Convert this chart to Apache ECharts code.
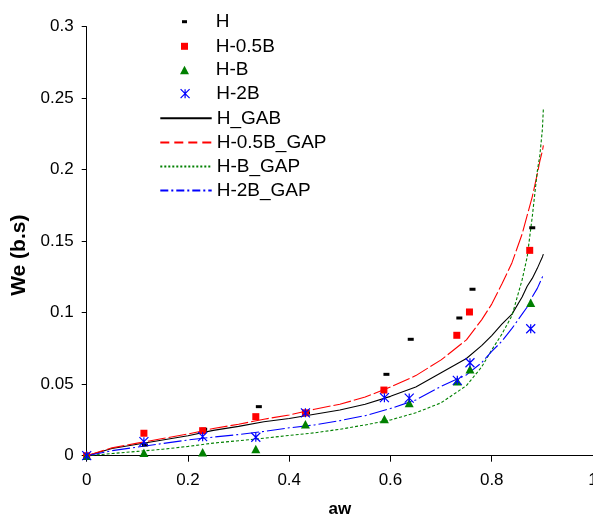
<!DOCTYPE html>
<html>
<head>
<meta charset="utf-8">
<script src="https://cdn.jsdelivr.net/npm/echarts@6/dist/echarts.min.js"></script>
<style>
  html, body { margin: 0; padding: 0; background: #fff; }
  #chart { width: 593px; height: 518px; }
</style>
</head>
<body>
<div id="chart"></div>
<script>
// Measured equilibrium moisture (We) against water activity (aw)
const awH     = [0, 0.115, 0.232, 0.340, 0.435, 0.592, 0.640, 0.736, 0.762, 0.880];
const weH     = [0, 0.0075, 0.0185, 0.0343, 0.030, 0.0569, 0.0814, 0.0963, 0.1164, 0.1594];
const awHalfB = [0, 0.113, 0.229, 0.334, 0.432, 0.587, 0.731, 0.756, 0.875];
const weHalfB = [0, 0.0157, 0.0175, 0.0273, 0.030, 0.0459, 0.0842, 0.1005, 0.1436];
const awB     = [0, 0.113, 0.229, 0.334, 0.432, 0.588, 0.637, 0.732, 0.757, 0.877];
const weB     = [0, 0.002, 0.0024, 0.0047, 0.022, 0.0257, 0.0368, 0.052, 0.0604, 0.107];
const aw2B    = [0, 0.113, 0.229, 0.334, 0.432, 0.588, 0.637, 0.732, 0.757, 0.877];
const we2B    = [0, 0.0098, 0.0133, 0.0129, 0.030, 0.0406, 0.0403, 0.0527, 0.065, 0.0888];

// Fitted sorption curves
const awFit    = [0, 0.05, 0.1, 0.15, 0.2, 0.25, 0.3, 0.35, 0.4, 0.45, 0.5, 0.55, 0.6, 0.65, 0.7, 0.75, 0.78, 0.8, 0.82, 0.84, 0.86, 0.87, 0.88, 0.89, 0.895, 0.9, 0.902];
const fitH     = [0, 0.005, 0.008, 0.011, 0.014, 0.0177, 0.0205, 0.0237, 0.026, 0.029, 0.032, 0.036, 0.0415, 0.048, 0.058, 0.068, 0.077, 0.084, 0.092, 0.099, 0.111, 0.1185, 0.124, 0.131, 0.135, 0.139, 0.141];
const fitHalfB = [0, 0.0055, 0.0088, 0.012, 0.0152, 0.019, 0.022, 0.0255, 0.0285, 0.0325, 0.036, 0.041, 0.048, 0.056, 0.067, 0.081, 0.095, 0.106, 0.120, 0.135, 0.155, 0.168, 0.181, 0.197, 0.206, 0.213, 0.217];
const fitB     = [0, 0.0015, 0.003, 0.0045, 0.0065, 0.0088, 0.0105, 0.0122, 0.0142, 0.016, 0.0185, 0.0215, 0.025, 0.030, 0.037, 0.049, 0.062, 0.074, 0.085, 0.098, 0.123, 0.139, 0.167, 0.199, 0.210, 0.228, 0.243];
const fit2B    = [0, 0.0035, 0.006, 0.0085, 0.011, 0.013, 0.0148, 0.017, 0.0195, 0.0215, 0.0245, 0.028, 0.033, 0.039, 0.0485, 0.0565, 0.065, 0.073, 0.080, 0.089, 0.099, 0.104, 0.111, 0.117, 0.121, 0.125, 0.127];

const xTicks = { min: 0, max: 1, interval: 0.2 };
const yTicks = { min: 0, max: 0.3, interval: 0.05 };

const pairs = (xs, ys) => xs.map((x, i) => [x, ys[i]]);

const FONT = '"Liberation Sans", Arial, sans-serif';
const STAR = 'path://M0,0L10,10M10,0L0,10M5,0L5,10';

// legend column: markers centred at ICON_CX, labels starting at TEXT_X
const ICON_CX = 184.5;
const TEXT_X = 215.7;

const chart = echarts.init(document.getElementById('chart'), null, { renderer: 'canvas' });

function markerLegend(name, icon, w, h, centerY, extra) {
  const left = ICON_CX - w / 2;
  return Object.assign({
    show: true,
    orient: 'vertical',
    left: left,
    top: centerY - 10,
    padding: 0,
    itemWidth: w,
    itemHeight: h,
    symbolKeepAspect: false,
    selectedMode: false,
    textStyle: {
      fontFamily: FONT, fontSize: 19, color: '#000', lineHeight: 20,
      padding: [0, 0, 0, TEXT_X - (left + w + 5)]
    },
    data: [{ name: name, icon: icon }]
  }, extra || {});
}

const option = {
  animation: false,
  backgroundColor: '#fff',
  grid: {
    left: 86.7, right: 0, top: 26.7, bottom: 62.3,
    containLabel: false, outerBoundsMode: 'none'
  },
  legend: [
    markerLegend('H', 'rect', 5, 3, 21.7),
    markerLegend('H-0.5B', 'rect', 7, 7, 46.3),
    markerLegend('H-B', 'triangle', 9, 8.5, 70),
    markerLegend('H-2B', STAR, 9, 9, 93.7, { itemStyle: { borderWidth: 1.2 } }),
    {
      show: true,
      orient: 'vertical',
      left: 159.3,
      top: 108.3,
      padding: 0,
      itemWidth: 51.4,
      itemHeight: 10,
      itemGap: 4.1,
      selectedMode: false,
      itemStyle: { opacity: 0 },
      textStyle: { fontFamily: FONT, fontSize: 19, color: '#000', lineHeight: 20 },
      data: [
        { name: 'H_GAB', lineStyle: { type: 'solid' } },
        { name: 'H-0.5B_GAP', lineStyle: { type: [9, 5] } },
        { name: 'H-B_GAP', lineStyle: { type: [2, 2] } },
        { name: 'H-2B_GAP', lineStyle: { type: [8, 3, 2, 3] } }
      ]
    }
  ],
  xAxis: {
    type: 'value',
    min: xTicks.min, max: xTicks.max, interval: xTicks.interval,
    name: 'aw', nameLocation: 'middle', nameGap: 45,
    nameTextStyle: { fontFamily: FONT, fontSize: 17, fontWeight: 'bold', color: '#000' },
    axisLine: { show: true, onZero: false, lineStyle: { color: '#000', width: 1 } },
    axisTick: { show: true, inside: false, length: 6, lineStyle: { color: '#000' } },
    axisLabel: { margin: 16, fontFamily: FONT, fontSize: 17, color: '#000' },
    splitLine: { show: false }
  },
  yAxis: {
    type: 'value',
    min: yTicks.min, max: yTicks.max, interval: yTicks.interval,
    name: 'We (b.s)', nameLocation: 'middle', nameGap: 53,
    nameTextStyle: { fontFamily: FONT, fontSize: 21, fontWeight: 'bold', color: '#000', padding: [0, 28, 0, 0] },
    axisLine: { show: true, onZero: false, lineStyle: { color: '#000', width: 1 } },
    axisTick: { show: true, inside: false, length: 5, lineStyle: { color: '#000' } },
    axisLabel: { margin: 13, fontFamily: FONT, fontSize: 17, color: '#000' },
    splitLine: { show: false }
  },
  series: [
    {
      name: 'H', type: 'scatter', data: pairs(awH, weH),
      symbol: 'rect', symbolSize: [6, 3],
      itemStyle: { color: '#000', opacity: 1 }
    },
    {
      name: 'H-0.5B', type: 'scatter', data: pairs(awHalfB, weHalfB),
      symbol: 'rect', symbolSize: 7,
      itemStyle: { color: '#ff0000', opacity: 1 }
    },
    {
      name: 'H-B', type: 'scatter', data: pairs(awB, weB),
      symbol: 'triangle', symbolSize: [9, 8.5],
      itemStyle: { color: '#008000', opacity: 1 }
    },
    {
      name: 'H-2B', type: 'scatter', data: pairs(aw2B, we2B),
      symbol: STAR, symbolSize: 9,
      itemStyle: { color: '#0000ff', borderColor: '#0000ff', borderWidth: 1.2, opacity: 1 }
    },
    {
      name: 'H_GAB', type: 'line', data: pairs(awFit, fitH),
      symbol: 'none', smooth: false, z: 1,
      itemStyle: { color: '#000' },
      lineStyle: { color: '#000', width: 1.1, type: 'solid' }
    },
    {
      name: 'H-0.5B_GAP', type: 'line', data: pairs(awFit, fitHalfB),
      symbol: 'none', smooth: false, z: 1,
      itemStyle: { color: '#ff0000' },
      lineStyle: { color: '#ff0000', width: 1.1, type: [18, 3] }
    },
    {
      name: 'H-B_GAP', type: 'line', data: pairs(awFit, fitB),
      symbol: 'none', smooth: false, z: 1,
      itemStyle: { color: '#008000' },
      lineStyle: { color: '#008000', width: 1.1, type: [3, 2] }
    },
    {
      name: 'H-2B_GAP', type: 'line', data: pairs(awFit, fit2B),
      symbol: 'none', smooth: false, z: 1,
      itemStyle: { color: '#0000ff' },
      lineStyle: { color: '#0000ff', width: 1.1, type: [18, 3, 2, 3] }
    }
  ]
};

chart.setOption(option);
</script>
</body>
</html>
